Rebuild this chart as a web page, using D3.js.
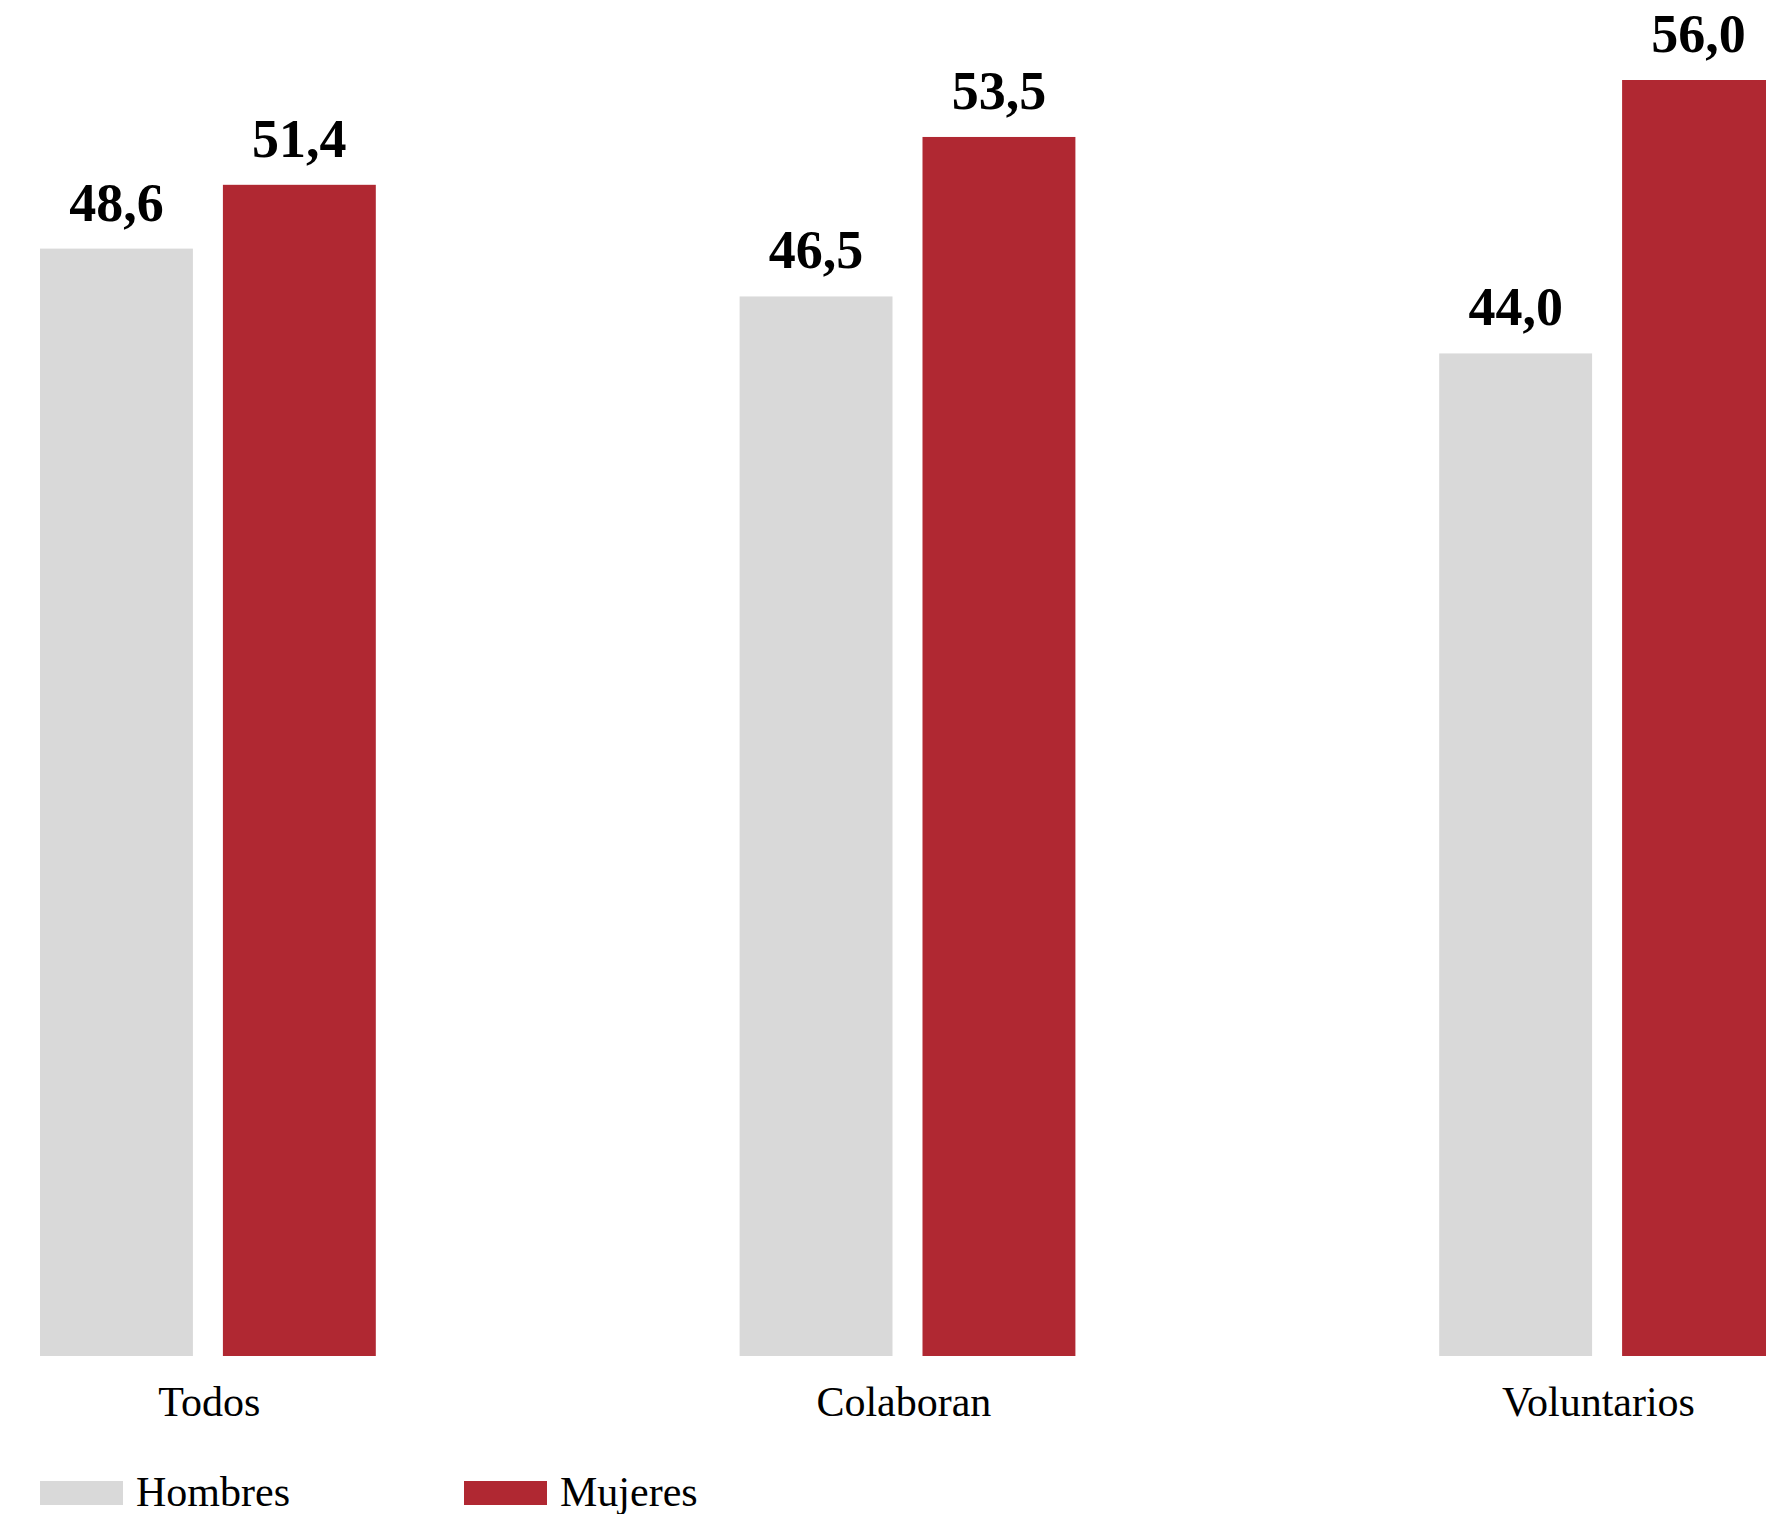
<!DOCTYPE html>
<html><head><meta charset="utf-8">
<script src="https://cdn.jsdelivr.net/npm/d3@7"></script>
<style>html,body{margin:0;padding:0;background:#fff;overflow:hidden}</style>
</head><body>
<script>
// ---- data ----
const categories = ["Todos", "Colaboran", "Voluntarios"];
const seriesNames = ["Hombres", "Mujeres"];
const hombres = [48.6, 46.5, 44.0];
const mujeres = [51.4, 53.5, 56.0];
const seriesColors = ["#d9d9d9", "#b02832"];

// ---- layout ----
const W = 1766, H = 1514;
const baseY = 1356, topY = 80;
const serif = "'Liberation Serif', 'DejaVu Serif', serif";

const svg = d3.select("body").append("svg")
  .attr("width", W).attr("height", H)
  .style("display", "block");

const rows = categories.map((c, i) => ({
  cat: c,
  vals: [{s: seriesNames[0], v: hombres[i]}, {s: seriesNames[1], v: mujeres[i]}]
}));

const x0 = d3.scaleBand().domain(categories).range([40, 1775]).paddingInner(0.52).paddingOuter(0);
const x1 = d3.scaleBand().domain(seriesNames).range([0, x0.bandwidth()]).paddingInner(0.164);
const y = d3.scaleLinear().domain([0, 56]).range([baseY, topY]);
const color = d3.scaleOrdinal().domain(seriesNames).range(seriesColors);
const xLab = d3.scalePoint().domain(categories).range([208.7, 1598]);

const locale = d3.formatLocale({decimal: ",", thousands: ".", grouping: [3], currency: ["", "€"]});
const fmt = locale.format(".1f");

const g = svg.selectAll("g.grp").data(rows).join("g")
  .attr("class", "grp")
  .attr("transform", d => `translate(${x0(d.cat)},0)`);

g.selectAll("rect").data(d => d.vals).join("rect")
  .attr("x", d => x1(d.s))
  .attr("width", x1.bandwidth())
  .attr("y", d => y(d.v))
  .attr("height", d => baseY - y(d.v))
  .attr("fill", d => color(d.s));

g.selectAll("text.val").data(d => d.vals).join("text")
  .attr("class", "val")
  .attr("x", d => x1(d.s) + x1.bandwidth() / 2)
  .attr("y", d => y(d.v) - 28)
  .attr("text-anchor", "middle")
  .style("font-family", serif)
  .style("font-weight", "bold")
  .style("font-size", "54px")
  .attr("fill", "#000")
  .text(d => fmt(d.v));

// category axis
const axis = svg.append("g")
  .attr("transform", `translate(0,${baseY})`)
  .call(d3.axisBottom(xLab).tickSize(0).tickPadding(0));
axis.select(".domain").remove();
axis.selectAll("text")
  .attr("y", 60).attr("dy", 0)
  .style("font-family", serif)
  .style("font-size", "42px")
  .attr("fill", "#000");

// legend
const legX = d3.scaleOrdinal().domain(seriesNames).range([40, 464]);
const leg = svg.append("g").selectAll("g").data(seriesNames).join("g")
  .attr("transform", d => `translate(${legX(d)},1481)`);
leg.append("rect").attr("width", 83).attr("height", 24).attr("fill", d => color(d));
leg.append("text").attr("x", 96).attr("y", 25)
  .style("font-family", serif).style("font-size", "42px")
  .attr("fill", "#000").text(d => d);
</script>
</body></html>
